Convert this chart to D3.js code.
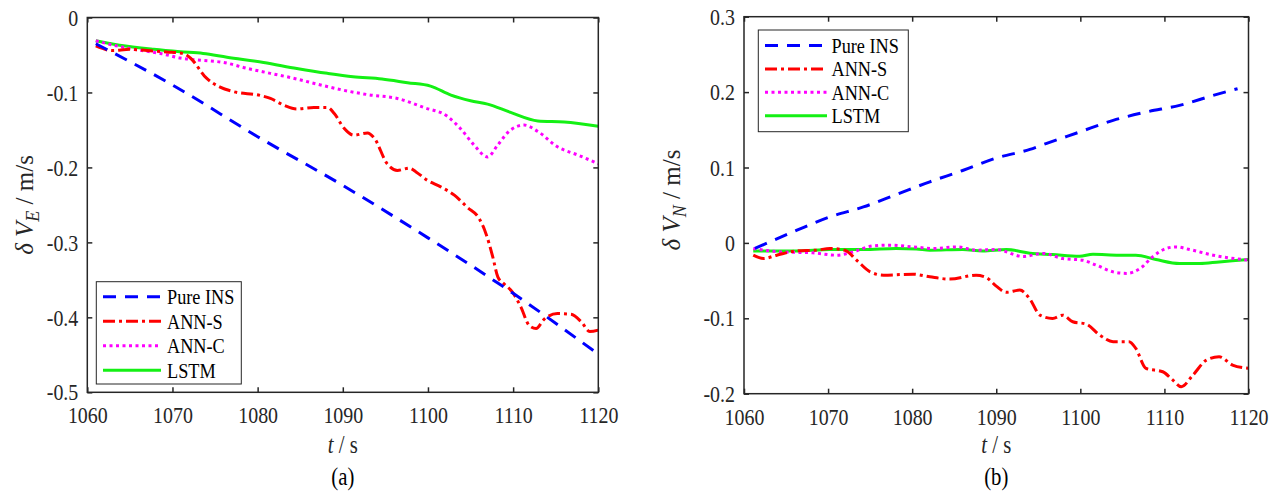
<!DOCTYPE html>
<html>
<head>
<meta charset="utf-8">
<script src="https://cdn.jsdelivr.net/npm/d3@7"></script>
<style>
  body { margin: 0; background: #fff; }
  svg { display: block; font-family: "Liberation Serif", "Times New Roman", serif; }
  svg text { font-family: "Liberation Serif", "Times New Roman", serif; }
  .sq { transform-box: fill-box; transform: scaleX(0.83); }
</style>
</head>
<body>
<div id="chart"></div>
<script>
// time axis ticks and value ticks
var tTicks = [1060, 1070, 1080, 1090, 1100, 1110, 1120];
var eTicks = [0, -0.1, -0.2, -0.3, -0.4, -0.5];
var nTicks = [0.3, 0.2, 0.1, 0, -0.1, -0.2];
var seriesNames = ["Pure INS", "ANN-S", "ANN-C", "LSTM"];

// (a) east velocity error, [t, value]
var pureE = [[1061,-0.035],[1070,-0.090],[1080,-0.159],[1090,-0.224],[1100,-0.294],[1110,-0.368],[1119.5,-0.445]];
var annSE = [[1061,-0.038],[1062.9,-0.044],[1065,-0.0425],[1067,-0.044],[1069.3,-0.046],[1071.3,-0.048],[1072.1,-0.054],
  [1074,-0.081],[1075.6,-0.093],[1077.2,-0.099],[1080.3,-0.104],[1081.5,-0.108],[1083.1,-0.117],[1084.6,-0.122],
  [1086.6,-0.120],[1088.2,-0.120],[1089,-0.128],[1090.1,-0.147],[1091.3,-0.157],[1092.9,-0.154],[1093.7,-0.161],
  [1095.2,-0.195],[1096.4,-0.204],[1097.8,-0.201],[1098.6,-0.206],[1099.9,-0.217],[1101.5,-0.226],[1103.1,-0.237],
  [1104.6,-0.253],[1106,-0.268],[1106.8,-0.288],[1107.6,-0.319],[1108.2,-0.346],[1108.9,-0.355],[1109.9,-0.366],
  [1110.9,-0.386],[1111.9,-0.411],[1112.7,-0.415],[1113.6,-0.403],[1115.2,-0.395],[1116.8,-0.396],[1118,-0.406],
  [1119,-0.419],[1120,-0.417]];
var annCE = [[1061,-0.031],[1063.1,-0.037],[1065.8,-0.043],[1068.6,-0.048],[1070.9,-0.054],[1073.3,-0.057],[1076,-0.060],
  [1078.8,-0.068],[1081.5,-0.0745],[1084.2,-0.081],[1087.4,-0.090],[1090.5,-0.098],[1093,-0.103],[1096.4,-0.108],
  [1099.5,-0.120],[1102.3,-0.132],[1103.8,-0.148],[1105.4,-0.170],[1107,-0.186],[1108.2,-0.170],[1109.7,-0.150],
  [1111.3,-0.1435],[1112.9,-0.152],[1115.2,-0.1725],[1117.6,-0.1835],[1120,-0.195]];
var lstmE = [[1061,-0.031],[1063.8,-0.037],[1067.8,-0.0425],[1070.9,-0.0457],[1073.6,-0.048],[1076.4,-0.053],
  [1080.7,-0.060],[1084.6,-0.068],[1088.2,-0.0745],[1091.2,-0.079],[1094.6,-0.082],[1097.6,-0.087],[1100.3,-0.0915],
  [1102.7,-0.1035],[1105,-0.111],[1107,-0.1155],[1109.7,-0.1266],[1112.9,-0.138],[1116,-0.1395],[1120,-0.145]];

// (b) north velocity error, [t, value]
var pureN = [[1061.3,-0.0074],[1066.3,0.0168],[1070.2,0.0344],[1074.2,0.0477],[1078.1,0.064],[1082.1,0.081],
  [1086,0.096],[1090,0.1125],[1094,0.124],[1096,0.132],[1099.9,0.147],[1103.9,0.1625],[1107.8,0.1735],
  [1111.8,0.1824],[1115.8,0.1956],[1118.7,0.2045]];
var annSN = [[1061.1,-0.0163],[1062.3,-0.0207],[1063.9,-0.0163],[1066.3,-0.0106],[1068.6,-0.0097],[1070.2,-0.0074],
  [1072,-0.0097],[1073.4,-0.023],[1075,-0.0384],[1076.6,-0.0428],[1080.1,-0.0415],[1082.1,-0.045],[1084.5,-0.048],
  [1087.6,-0.0428],[1088.8,-0.0458],[1090,-0.0573],[1091.2,-0.0655],[1092.8,-0.0626],[1094,-0.0745],[1095.2,-0.0958],
  [1096.7,-0.1001],[1097.9,-0.0958],[1099.1,-0.1046],[1100.7,-0.1077],[1102.3,-0.1222],[1103.9,-0.131],
  [1105.8,-0.131],[1106.6,-0.140],[1107.8,-0.1664],[1109.8,-0.1709],[1111,-0.182],[1112,-0.1907],[1113.4,-0.1752],
  [1115,-0.1554],[1116.5,-0.151],[1118.1,-0.162],[1120,-0.1664]];
var annCN = [[1061.1,-0.0074],[1064.3,-0.0119],[1068.2,-0.0132],[1071,-0.0163],[1073,-0.0119],[1075.3,-0.004],
  [1077.3,-0.003],[1080.1,-0.0053],[1082.5,-0.0074],[1085.3,-0.0053],[1087.6,-0.0097],[1090,-0.0088],
  [1093.2,-0.018],[1095.6,-0.014],[1097.9,-0.0207],[1100.3,-0.023],[1101.9,-0.0295],[1103.9,-0.0384],
  [1105.5,-0.0405],[1107.1,-0.034],[1108.6,-0.0185],[1110.2,-0.0074],[1111.4,-0.0053],[1113,-0.0088],
  [1115.8,-0.0163],[1120,-0.023]];
var lstmN = [[1061.1,-0.0106],[1066.3,-0.0106],[1070.2,-0.0088],[1074.2,-0.0088],[1078.1,-0.0074],[1080.5,-0.008],
  [1082.1,-0.0097],[1086,-0.0088],[1088.4,-0.0106],[1091.2,-0.0088],[1094,-0.0136],[1096.7,-0.0154],
  [1099.9,-0.0176],[1101.5,-0.015],[1104.6,-0.0163],[1106.6,-0.0163],[1109,-0.022],[1111.8,-0.0273],
  [1114.2,-0.0273],[1116.5,-0.0252],[1120,-0.022]];

var styles = [
  { color: "#0000ff", dash: "13,9" },
  { color: "#ff0000", dash: "12,4,3,4" },
  { color: "#ff00ff", dash: "3,3.5" },
  { color: "#14f014", dash: null }
];

var svg = d3.select("#chart").append("svg")
  .attr("width", 1282)
  .attr("height", 494);

var fmtY = function (d) { return d === 0 ? "0" : d3.format(".1f")(d).replace("\u2212", "-"); };

function drawPanel(p) {
  var x = d3.scaleLinear().domain([1060, 1120]).range([p.left, p.right]);
  var y = d3.scaleLinear().domain(p.domain).range([p.bottom, p.top]);
  var g = svg.append("g");

  // axes with inward ticks, mirrored on top/right
  var bottomAxis = d3.axisBottom(x).tickValues(tTicks).tickFormat(d3.format("d"))
    .tickSizeInner(-5).tickSizeOuter(0).tickPadding(14);
  var leftAxis = d3.axisLeft(y).tickValues(p.ticks).tickFormat(fmtY)
    .tickSizeInner(-5).tickSizeOuter(0).tickPadding(9);

  var gx = g.append("g").attr("transform", `translate(0, ${p.bottom})`).call(bottomAxis);
  var gy = g.append("g").attr("transform", `translate(${p.left}, 0)`).call(leftAxis);
  g.append("g").attr("transform", `translate(0, ${p.top})`)
    .call(d3.axisTop(x).tickValues(tTicks).tickSizeInner(-5).tickSizeOuter(0).tickFormat(""));
  g.append("g").attr("transform", `translate(${p.right}, 0)`)
    .call(d3.axisRight(y).tickValues(p.ticks).tickSizeInner(-5).tickSizeOuter(0).tickFormat(""));

  g.selectAll(".domain").remove();
  g.selectAll(".tick line").attr("stroke", "#262626").attr("stroke-width", 1.5);
  g.selectAll(".tick text")
    .style("font-family", "'Liberation Serif', serif")
    .style("font-size", "24px")
    .attr("fill", "#262626");
  gx.selectAll(".tick text").attr("class", "sq").style("transform-origin", "center");
  gy.selectAll(".tick text").attr("class", "sq").style("transform-origin", "right center");

  // clip for the curves
  var clipId = "clip" + p.id;
  svg.append("clipPath").attr("id", clipId).append("rect")
    .attr("x", p.left).attr("y", p.top)
    .attr("width", p.right - p.left).attr("height", p.bottom - p.top);

  var line = d3.line()
    .x(d => x(d[0]))
    .y(d => y(d[1]))
    .curve(d3.curveMonotoneX);

  var plotG = g.append("g").attr("clip-path", `url(#${clipId})`);
  // LSTM first so the dashed ones stay visible on top
  [3, 2, 1, 0].forEach(function (i) {
    plotG.append("path")
      .attr("d", line(p.series[i]))
      .attr("fill", "none")
      .attr("stroke", styles[i].color)
      .attr("stroke-width", 3)
      .attr("stroke-dasharray", styles[i].dash)
      .attr("stroke-linejoin", "round");
  });

  // frame
  g.append("rect")
    .attr("x", p.left).attr("y", p.top)
    .attr("width", p.right - p.left).attr("height", p.bottom - p.top)
    .attr("fill", "none").attr("stroke", "#262626").attr("stroke-width", 1.5);

  // legend
  var L = p.legend;
  g.append("rect")
    .attr("x", L.x).attr("y", L.y).attr("width", L.w).attr("height", L.h)
    .attr("fill", "#fff").attr("stroke", "#262626").attr("stroke-width", 1);
  seriesNames.forEach(function (name, i) {
    var yy = L.y + L.first + i * L.step;
    g.append("line")
      .attr("x1", L.x1).attr("x2", L.x2).attr("y1", yy).attr("y2", yy)
      .attr("stroke", styles[i].color).attr("stroke-width", 3)
      .attr("stroke-dasharray", styles[i].dash);
    g.append("text")
      .attr("class", "sq").style("transform-origin", "left center")
      .attr("x", L.tx).attr("y", yy + 7.5)
      .style("font-size", "22px").attr("fill", "#000")
      .text(name);
  });

  // x axis title
  var cx = (p.left + p.right) / 2;
  var xt = g.append("text")
    .attr("class", "sq").style("transform-origin", "center")
    .attr("x", cx).attr("y", 453)
    .attr("text-anchor", "middle").style("font-size", "25px").attr("fill", "#262626");
  xt.append("tspan").attr("font-style", "italic").text("t");
  xt.append("tspan").text("  / s");

  // y axis title
  var yt = g.append("text")
    .attr("transform", `translate(${p.ylabX}, ${p.ylabY}) rotate(-90)`)
    .attr("text-anchor", "middle").style("font-size", "25px").attr("fill", "#262626");
  yt.append("tspan").attr("font-style", "italic").text("δ V");
  yt.append("tspan").attr("font-style", "italic").style("font-size", "18px").attr("dy", 6).text(p.sub);
  yt.append("tspan").attr("dy", -6).text(" / m/s");

  // panel caption
  g.append("text")
    .attr("class", "sq").style("transform-origin", "center")
    .attr("x", cx).attr("y", 485)
    .attr("text-anchor", "middle").style("font-size", "25px").attr("fill", "#000")
    .text(p.caption);
}

drawPanel({
  id: "a", left: 87.3, right: 598.3, top: 17.5, bottom: 392.3,
  domain: [-0.5, 0], ticks: eTicks,
  series: [pureE, annSE, annCE, lstmE],
  legend: { x: 96.3, y: 281.7, w: 145, h: 102.3, first: 15, step: 24.5, x1: 103, x2: 161, tx: 167 },
  ylabX: 33, ylabY: 205, sub: "E", caption: "(a)"
});

drawPanel({
  id: "b", left: 744, right: 1248.5, top: 16.7, bottom: 393.7,
  domain: [-0.2, 0.3], ticks: nTicks,
  series: [pureN, annSN, annCN, lstmN],
  legend: { x: 758.3, y: 30, w: 150, h: 101.7, first: 15.5, step: 23.4, x1: 765, x2: 827, tx: 831.5 },
  ylabX: 680, ylabY: 200, sub: "N", caption: "(b)"
});
</script>
</body>
</html>
